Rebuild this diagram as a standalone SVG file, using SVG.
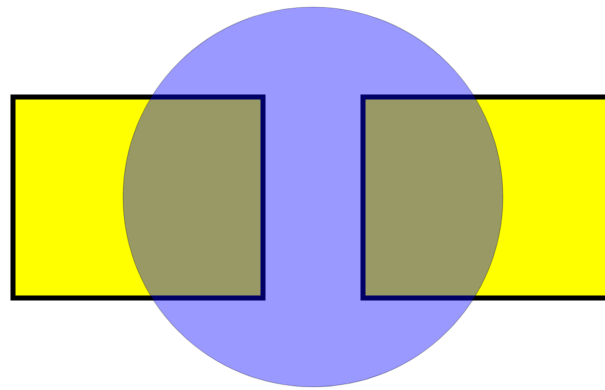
<svg xmlns="http://www.w3.org/2000/svg" width="605" height="390" viewBox="0 0 605 390">
  <style>
    .bar { fill: #ffff00; stroke: #000000; stroke-width: 5; }
    .disc { fill: #0000ff; fill-opacity: 0.4; stroke: #000000; stroke-opacity: 0.2; stroke-width: 1.2; }
  </style>
  <rect width="605" height="390" fill="#ffffff"/>
  <g id="left-bar"><rect class="bar" x="13" y="97" width="250" height="201"/></g>
  <g id="right-bar"><rect class="bar" x="363" y="97" width="260" height="201"/></g>
  <g id="circle"><circle class="disc" cx="313" cy="197" r="190"/></g>
  <g id="connectors"></g>
</svg>
